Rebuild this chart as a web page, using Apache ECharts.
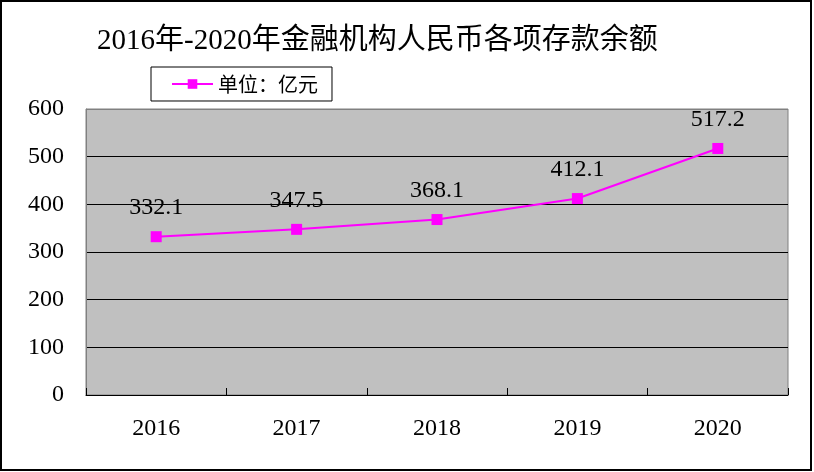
<!DOCTYPE html>
<html>
<head>
<meta charset="utf-8">
<title>2016年-2020年金融机构人民币各项存款余额</title>
<script src="https://cdn.jsdelivr.net/npm/echarts@6/dist/echarts.min.js"></script>
<style>
	html, body { margin: 0; padding: 0; background: #fff; }
	#chart { width: 814px; height: 472px; }
</style>
</head>
<body>
<div id="chart"></div>
<script>
	const years = ['2016', '2017', '2018', '2019', '2020'];
	const deposits = [332.1, 347.5, 368.1, 412.1, 517.2];
	const yTicks = [0, 100, 200, 300, 400, 500, 600];

	const serif = '"Liberation Serif", "Noto Sans CJK SC", serif';
	const chart = echarts.init(document.querySelector('#chart'));

	chart.setOption({
		animation: false,
		backgroundColor: '#ffffff',
		title: {
			text: '2016年-2020年金融机构人民币各项存款余额',
			left: 97,
			top: 27,
			padding: 0,
			textStyle: {
				fontFamily: serif,
				fontSize: 29,
				fontWeight: 'normal',
				color: '#000'
			}
		},
		legend: {
			left: 151,
			top: 67,
			padding: [7, 14, 7, 20],
			borderColor: '#000',
			borderWidth: 1,
			itemWidth: 41,
			itemHeight: 12,
			itemGap: 5,
			textStyle: {
				fontFamily: '"Noto Sans CJK SC", sans-serif',
				fontSize: 20,
				color: '#000'
			},
			data: ['单位：亿元']
		},
		grid: {
			left: 86,
			top: 109,
			right: 26,
			bottom: 77,
			show: true,
			backgroundColor: '#c0c0c0',
			borderColor: '#808080',
			borderWidth: 1
		},
		xAxis: {
			type: 'category',
			data: years,
			boundaryGap: true,
			axisLine: {
				lineStyle: { color: '#000', width: 1 }
			},
			axisTick: {
				show: true,
				inside: true,
				length: 7,
				lineStyle: { color: '#000' }
			},
			axisLabel: {
				margin: 22,
				fontFamily: serif,
				fontSize: 24,
				color: '#000'
			},
			splitLine: { show: false }
		},
		yAxis: {
			type: 'value',
			min: yTicks[0],
			max: yTicks[yTicks.length - 1],
			interval: 100,
			axisLine: {
				show: true,
				lineStyle: { color: '#808080' }
			},
			axisTick: { show: false },
			axisLabel: {
				margin: 22,
				fontFamily: serif,
				fontSize: 24,
				color: '#000'
			},
			splitLine: {
				show: true,
				lineStyle: {
					color: ['#000', '#000', '#000', '#000', '#000', '#000', '#808080'],
					width: 1
				}
			}
		},
		series: [
			{
				name: '单位：亿元',
				type: 'line',
				data: deposits,
				symbol: 'rect',
				symbolSize: 11,
				itemStyle: { color: '#ff00ff' },
				lineStyle: { color: '#ff00ff', width: 2 },
				label: {
					show: true,
					position: 'top',
					distance: 11,
					fontFamily: serif,
					fontSize: 24,
					color: '#000'
				}
			}
		],
		graphic: [
			{
				type: 'rect',
				shape: { x: 1, y: 1, width: 810, height: 469 },
				style: { fill: 'none', stroke: '#000', lineWidth: 2 },
				silent: true
			}
		]
	});
</script>
</body>
</html>
